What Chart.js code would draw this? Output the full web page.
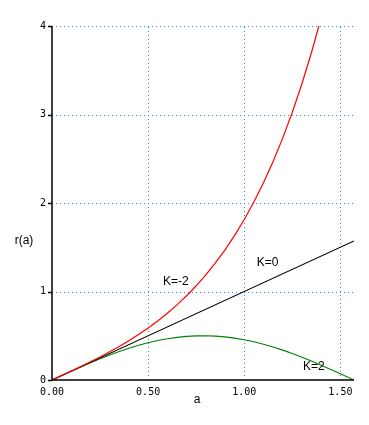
<!DOCTYPE html>
<html>
<head>
<meta charset="utf-8">
<script src="https://cdn.jsdelivr.net/npm/chart.js@4.4.1/dist/chart.umd.min.js"></script>
<style>
  html, body { margin: 0; padding: 0; background: #fff; }
  #wrap { width: 369px; height: 425px; }
</style>
</head>
<body>
<div id="wrap"><canvas id="chart" width="369" height="425"></canvas></div>
<script>
// a values (step 0.05 up to pi/2)
const aVals = [0, 0.05, 0.1, 0.15, 0.2, 0.25, 0.3, 0.35, 0.4, 0.45, 0.5, 0.55, 0.6, 0.65, 0.7, 0.75,
  0.8, 0.85, 0.9, 0.95, 1.0, 1.05, 1.1, 1.15, 1.2, 1.25, 1.3, 1.35, 1.4, 1.45, 1.5, 1.5708];

// K=-2 curve, read until it leaves the top of the plot
const aNeg = [0, 0.05, 0.1, 0.15, 0.2, 0.25, 0.3, 0.35, 0.4, 0.45, 0.5, 0.55, 0.6, 0.65, 0.7, 0.75,
  0.8, 0.85, 0.9, 0.95, 1.0, 1.05, 1.1, 1.15, 1.2, 1.25, 1.3, 1.35, 1.388];
const rNeg = [0, 0.0501, 0.1007, 0.1523, 0.2054, 0.2606, 0.3183, 0.3793, 0.4441, 0.5133, 0.5876,
  0.6678, 0.7547, 0.8492, 0.9522, 1.0646, 1.1878, 1.3228, 1.4711, 1.6341, 1.8134, 2.0109,
  2.2286, 2.4685, 2.7331, 3.0251, 3.3474, 3.7031, 4.0];

// K=0 is a straight line
const aZero = [0, 1.5708];
const rZero = [0, 1.5708];

// K=2 curve
const rPos = [0, 0.0499, 0.0993, 0.1478, 0.1947, 0.2397, 0.2823, 0.3221, 0.3587, 0.3917, 0.4207,
  0.4456, 0.4660, 0.4818, 0.4927, 0.4987, 0.4998, 0.4958, 0.4869, 0.4732, 0.4547, 0.4316,
  0.4043, 0.3729, 0.3377, 0.2992, 0.2578, 0.2137, 0.1675, 0.1196, 0.0706, 0];

const yTicks = [0, 1, 2, 3, 4];
const xTicks = [0, 0.5, 1.0, 1.5];

// text labels on the curves: [text, a, r]
const curveLabels = [
  ['K=-2', 0.577, 1.11],
  ['K=0', 1.065, 1.32],
  ['K=2', 1.306, 0.153]
];

const gridBlue = '#1e90ff';
const tickFont = { family: 'DejaVu Sans Mono', size: 10 };

function pts(xs, ys) {
  return xs.map((x, i) => ({ x: x, y: ys[i] }));
}

// dotted grid, drawn from the scales' own pixel mapping
const gridPlugin = {
  id: 'dotgrid',
  beforeDatasetsDraw(chart) {
    const ctx = chart.ctx;
    const xs = chart.scales.x, ys = chart.scales.y;
    const area = chart.chartArea;
    ctx.save();
    ctx.strokeStyle = gridBlue;
    ctx.lineWidth = 1;
    ctx.setLineDash([1, 3]);
    xTicks.forEach(v => {
      if (v === 0) return;
      const px = Math.round(xs.getPixelForValue(v)) + 0.5;
      ctx.beginPath();
      ctx.moveTo(px, area.bottom);
      ctx.lineTo(px, area.top);
      ctx.stroke();
    });
    yTicks.forEach(v => {
      if (v === 0) return;
      const py = Math.round(ys.getPixelForValue(v)) + 0.5;
      ctx.beginPath();
      ctx.moveTo(area.left, py);
      ctx.lineTo(area.right, py);
      ctx.stroke();
    });
    ctx.restore();
  }
};

const textPlugin = {
  id: 'texts',
  afterDraw(chart) {
    const ctx = chart.ctx;
    const xs = chart.scales.x, ys = chart.scales.y;
    const area = chart.chartArea;
    ctx.save();
    // axis lines and y tick marks
    ctx.strokeStyle = '#000';
    ctx.lineWidth = 1.5;
    ctx.beginPath();
    ctx.moveTo(area.left, area.top);
    ctx.lineTo(area.left, area.bottom);
    ctx.lineTo(area.right, area.bottom);
    yTicks.forEach(v => {
      const py = Math.round(ys.getPixelForValue(v)) + 0.5;
      ctx.moveTo(area.left - 4, py);
      ctx.lineTo(area.left, py);
    });
    ctx.stroke();

    ctx.fillStyle = '#000';
    ctx.font = '12px "Liberation Sans", Arial, sans-serif';
    ctx.textBaseline = 'middle';
    ctx.textAlign = 'left';
    curveLabels.forEach(l => {
      ctx.fillText(l[0], xs.getPixelForValue(l[1]), ys.getPixelForValue(l[2]));
    });
    // axis titles
    ctx.textAlign = 'center';
    ctx.fillText('a', 197, 400);
    ctx.fillText('r(a)', 24, 241);
    ctx.restore();
  }
};

new Chart(document.getElementById('chart').getContext('2d'), {
  type: 'line',
  data: {
    datasets: [
      { label: 'K=-2', data: pts(aNeg, rNeg), borderColor: '#ff0000', borderWidth: 1.2 },
      { label: 'K=0', data: pts(aZero, rZero), borderColor: '#000000', borderWidth: 1.1 },
      { label: 'K=2', data: pts(aVals, rPos), borderColor: '#008000', borderWidth: 1.1 }
    ]
  },
  options: {
    responsive: false,
    animation: false,
    events: [],
    parsing: false,
    elements: { point: { radius: 0 }, line: { tension: 0, fill: false } },
    layout: { padding: { top: 26, right: 15, left: 0, bottom: 0 } },
    plugins: { legend: { display: false }, tooltip: { enabled: false } },
    scales: {
      x: {
        type: 'linear',
        min: 0,
        max: 1.5708,
        afterBuildTicks: s => { s.ticks = xTicks.map(v => ({ value: v })); },
        afterFit: s => { s.height = 45; },
        ticks: {
          font: tickFont, color: '#000', padding: 6, maxRotation: 0,
          callback: v => v.toFixed(2)
        },
        grid: { display: false, drawTicks: false },
        border: { display: false }
      },
      y: {
        min: 0,
        max: 4,
        afterBuildTicks: s => { s.ticks = yTicks.map(v => ({ value: v })); },
        afterFit: s => { s.width = 52; },
        ticks: { font: tickFont, color: '#000', padding: 6, callback: v => String(v) },
        grid: { display: false, drawTicks: false },
        border: { display: false }
      }
    }
  },
  plugins: [gridPlugin, textPlugin]
});
</script>
</body>
</html>
